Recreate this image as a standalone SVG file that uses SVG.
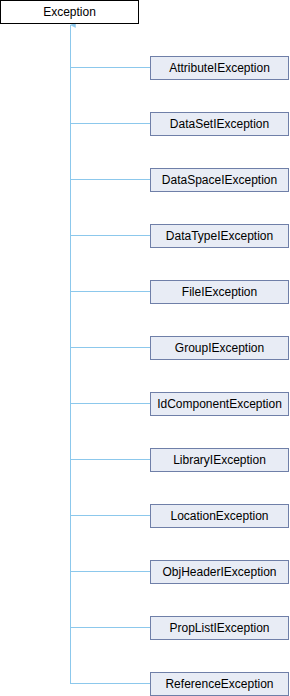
<svg xmlns="http://www.w3.org/2000/svg" width="290" height="696" viewBox="0 0 290 696">
<style>
.base rect{fill:#ffffff;stroke:#000000;stroke-width:1}
.node rect{fill:#e8ecf5;stroke:#6f7fa8;stroke-width:1}
text{font-family:"Liberation Sans",Arial,sans-serif;font-size:12px;fill:#000000;text-anchor:middle}
.edge{stroke:#8cc8ec;stroke-width:1;fill:none}
</style>
<defs>
<marker id="ah" markerWidth="6" markerHeight="6" refX="3" refY="0" orient="auto" markerUnits="userSpaceOnUse" viewBox="0 -1 6 6">
<path d="M3,0 L0.5,5 L5.5,5 Z" fill="#8cc8ec" stroke="#8cc8ec" stroke-width="0.5"/>
</marker>
</defs>
<g id="connectors">
<path class="edge" d="M70.5,684 L70.5,25" marker-end="url(#ah)"/>
<path class="edge" d="M70.5,67.5 H150"/>
<path class="edge" d="M70.5,123.5 H150"/>
<path class="edge" d="M70.5,179.5 H150"/>
<path class="edge" d="M70.5,235.5 H150"/>
<path class="edge" d="M70.5,291.5 H150"/>
<path class="edge" d="M70.5,347.5 H150"/>
<path class="edge" d="M70.5,403.5 H150"/>
<path class="edge" d="M70.5,459.5 H150"/>
<path class="edge" d="M70.5,515.5 H150"/>
<path class="edge" d="M70.5,571.5 H150"/>
<path class="edge" d="M70.5,627.5 H150"/>
<path class="edge" d="M70.5,683.5 H150"/>
</g>
<g id="Exception" class="base"><rect x="0.5" y="0.5" width="138" height="23"/><text x="69.5" y="16">Exception</text></g>
<g id="AttributeIException" class="node"><rect x="150.5" y="56.5" width="138" height="23"/><text x="219.5" y="72">AttributeIException</text></g>
<g id="DataSetIException" class="node"><rect x="150.5" y="112.5" width="138" height="23"/><text x="219.5" y="128">DataSetIException</text></g>
<g id="DataSpaceIException" class="node"><rect x="150.5" y="168.5" width="138" height="23"/><text x="219.5" y="184">DataSpaceIException</text></g>
<g id="DataTypeIException" class="node"><rect x="150.5" y="224.5" width="138" height="23"/><text x="219.5" y="240">DataTypeIException</text></g>
<g id="FileIException" class="node"><rect x="150.5" y="280.5" width="138" height="23"/><text x="219.5" y="296">FileIException</text></g>
<g id="GroupIException" class="node"><rect x="150.5" y="336.5" width="138" height="23"/><text x="219.5" y="352">GroupIException</text></g>
<g id="IdComponentException" class="node"><rect x="150.5" y="392.5" width="138" height="23"/><text x="219.5" y="408">IdComponentException</text></g>
<g id="LibraryIException" class="node"><rect x="150.5" y="448.5" width="138" height="23"/><text x="219.5" y="464">LibraryIException</text></g>
<g id="LocationException" class="node"><rect x="150.5" y="504.5" width="138" height="23"/><text x="219.5" y="520">LocationException</text></g>
<g id="ObjHeaderIException" class="node"><rect x="150.5" y="560.5" width="138" height="23"/><text x="219.5" y="576">ObjHeaderIException</text></g>
<g id="PropListIException" class="node"><rect x="150.5" y="616.5" width="138" height="23"/><text x="219.5" y="632">PropListIException</text></g>
<g id="ReferenceException" class="node"><rect x="150.5" y="672.5" width="138" height="23"/><text x="219.5" y="688">ReferenceException</text></g>
</svg>
